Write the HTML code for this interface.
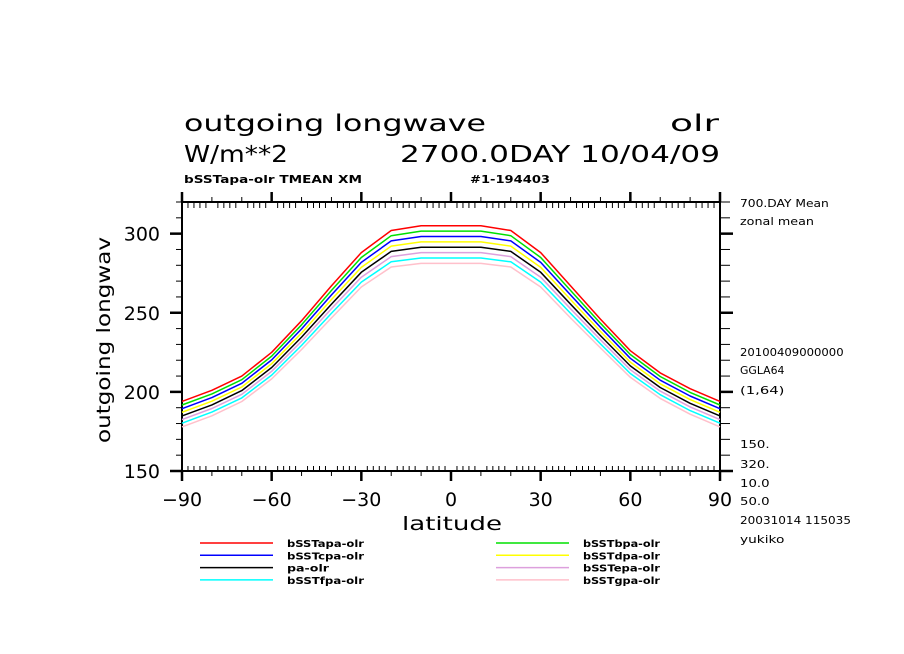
<!DOCTYPE html>
<html><head><meta charset="utf-8"><style>
html,body{margin:0;padding:0;background:#fff;}
svg{display:block;font-family:"Liberation Mono","DejaVu Sans Mono",monospace;}
.t{font-family:"DejaVu Sans","Liberation Sans",sans-serif;}
</style></head><body>
<svg id="chart" width="904" height="654" viewBox="0 0 904 654">
<g class="t" fill="#000">
<text x="184" y="131" font-size="23" textLength="302" lengthAdjust="spacingAndGlyphs">outgoing longwave</text>
<text x="670" y="131" font-size="23" textLength="49" lengthAdjust="spacingAndGlyphs">olr</text>
<text x="184" y="162" font-size="23" textLength="104" lengthAdjust="spacingAndGlyphs">W/m**2</text>
<text x="400" y="162" font-size="23" textLength="320" lengthAdjust="spacingAndGlyphs">2700.0DAY 10/04/09</text>
<text x="184" y="183" font-size="11" font-weight="bold" textLength="178" lengthAdjust="spacingAndGlyphs">bSSTapa-olr TMEAN XM</text>
<text x="470" y="183" font-size="11" font-weight="bold" textLength="80" lengthAdjust="spacingAndGlyphs">#1-194403</text>
</g>
<g id="axes"></g>
<g id="series"></g>
<g id="legend"></g>
<g class="t" font-size="11" fill="#000" id="info"></g>
</svg>
<script>
const lats=[-90,-80,-70,-60,-50,-40,-30,-20,-10,0,10,20,30,40,50,60,70,80,90];
const seriesNames=["bSSTapa-olr","bSSTbpa-olr","bSSTcpa-olr","bSSTdpa-olr","pa-olr","bSSTepa-olr","bSSTfpa-olr","bSSTgpa-olr"];
const seriesColors=["#ff0000","#00e000","#0000ff","#ffff00","#000000","#dda0dd","#00ffff","#ffc0cb"];
const sA=[194,201,210,225,245,267,288,302,305,305,305,302,288,267,246,226,212,202,194];
const sB=[191.7,198.7,207.7,222.6,242.4,264.1,284.9,298.7,301.6,301.6,301.6,298.7,284.9,264.1,243.4,223.6,209.7,199.7,191.7];
const sC=[189.4,196.4,205.4,220.2,239.8,261.2,281.8,295.4,298.2,298.2,298.2,295.4,281.8,261.2,240.8,221.2,207.4,197.4,189.4];
const sD=[187.1,194.1,203.1,217.8,237.2,258.3,278.7,292.1,294.8,294.8,294.8,292.1,278.7,258.3,238.2,218.8,205.1,195.1,187.1];
const sPa=[184.8,191.8,200.8,215.4,234.6,255.4,275.6,288.8,291.4,291.4,291.4,288.8,275.6,255.4,235.6,216.4,202.8,192.8,184.8];
const sE=[182.5,189.5,198.5,213,232,252.5,272.5,285.5,288,288,288,285.5,272.5,252.5,233,214,200.5,190.5,182.5];
const sF=[180.2,187.2,196.2,210.6,229.4,249.6,269.4,282.2,284.6,284.6,284.6,282.2,269.4,249.6,230.4,211.6,198.2,188.2,180.2];
const sG=[177.9,184.9,193.9,208.2,226.8,246.7,266.3,278.9,281.2,281.2,281.2,278.9,266.3,246.7,227.8,209.2,195.9,185.9,177.9];
const seriesData=[sA,sB,sC,sD,sPa,sE,sF,sG];
const xTicks=[-90,-60,-30,0,30,60,90];
const yTicks=[150,200,250,300];
const infoLines=["700.DAY Mean","zonal mean","20100409000000","GGLA64","(1,64)","150.","320.","10.0","50.0","20031014 115035","yukiko"];

const NS="http://www.w3.org/2000/svg";
const X0=182,X1=720,Y0=471,Y1=202,YMIN=150,YMAX=320;
const xs=v=>X0+(v+90)/180*(X1-X0);
const ys=v=>Y0-(v-YMIN)/(YMAX-YMIN)*(Y0-Y1);
function mk(tag,attrs,parent){const e=document.createElementNS(NS,tag);for(const k in attrs)e.setAttribute(k,attrs[k]);parent.appendChild(e);return e;}
const ax=document.getElementById('axes');
function ln(x1,y1,x2,y2,w){return mk('line',{x1,y1,x2,y2,stroke:'#000','stroke-width':w},ax);}
let f=mk('rect',{x:X0,y:Y1,width:X1-X0,height:Y0-Y1,fill:'none',stroke:'#000','stroke-width':2},ax);


for(let v=-90;v<=90;v+=2){const x=xs(v);
 if(v%30===0){ln(x,Y0,x,Y0+10,2.5);ln(x,Y1,x,Y1-10,2.5);}
 else if(v%10===0){ln(x,Y0,x,Y0+5,1);ln(x,Y1,x,Y1-5,1);}
 else{ln(x,Y0,x,Y0-5,1);ln(x,Y1,x,Y1+6,1);}
}
for(let v=150;v<=320;v+=10){const y=ys(v);
 if(v%50===0){ln(X0,y,X0-12,y,2.5);ln(X1,y,X1+13,y,2.5);}
 else{ln(X0,y,X0-6,y,1);ln(X1,y,X1+10,y,1);}
}
xTicks.forEach(v=>{const t=mk('text',{x:xs(v),y:506,'font-size':19,'text-anchor':'middle',class:'t'},ax);t.textContent=String(v).replace('-','\u2212');
 
 });
yTicks.forEach(v=>{const t=mk('text',{x:160,y:ys(v)+7,'font-size':19,'text-anchor':'end',class:'t'},ax);t.textContent=v;
 
 });
let xl=mk('text',{x:452,y:530,'font-size':19,'text-anchor':'middle',class:'t',textLength:100,lengthAdjust:'spacingAndGlyphs'},ax);xl.textContent='latitude';


let yl=mk('text',{x:0,y:0,'font-size':19,'text-anchor':'middle',class:'t',textLength:206,lengthAdjust:'spacingAndGlyphs',transform:'translate(110,340) rotate(-90)'},ax);yl.textContent='outgoing longwav';


const sg=document.getElementById('series');
seriesData.forEach((d,i)=>{
 const pts=d.map((v,j)=>xs(lats[j]).toFixed(1)+','+ys(v).toFixed(1)).join(' ');
 const p=mk('polyline',{points:pts,fill:'none',stroke:seriesColors[i],'stroke-width':1.5,'stroke-linejoin':'round'},sg);
 
 
});
const lg=document.getElementById('legend');
const legendOrder=[0,2,4,6,1,3,5,7];
legendOrder.forEach((si,k)=>{
 const col=k<4?0:1,row=k%4;const lx=col?496:200,y=543+row*12.3;
 const g=mk('g',{},lg);
 
 
 mk('line',{x1:lx,y1:y,x2:lx+73,y2:y,stroke:seriesColors[si],'stroke-width':1.5},g);
 const t=mk('text',{x:lx+87,y:y+4,'font-size':10,'font-weight':'bold',class:'t',textLength:seriesNames[si].length*7,lengthAdjust:'spacingAndGlyphs'},g);t.textContent=seriesNames[si];
});
const inf=document.getElementById('info');
const infoY=[207,225,356,374,394,448,468,487,505,524,543];
infoLines.forEach((s,i)=>{const t=mk('text',{x:740,y:infoY[i],textLength:s.length*7.4,lengthAdjust:'spacingAndGlyphs'},inf);t.textContent=s;
 
 });
</script>
</body></html>
